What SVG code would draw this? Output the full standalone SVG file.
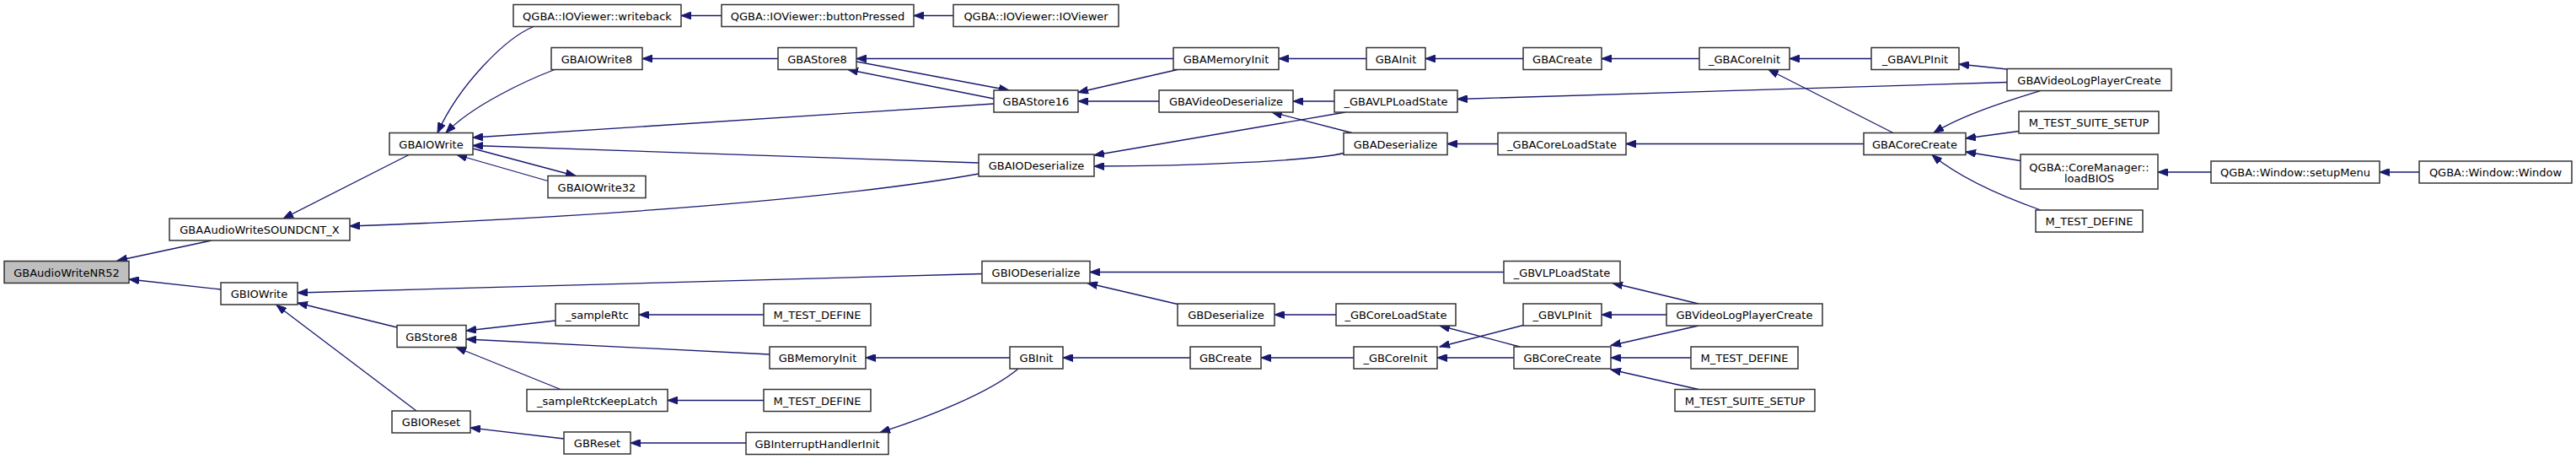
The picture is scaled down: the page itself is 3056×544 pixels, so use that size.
<svg xmlns="http://www.w3.org/2000/svg" width="3056" height="544" viewBox="0 0 3056 544">
<style>
.n rect{fill:#fff;stroke:#333;stroke-width:1.5}
.n.root rect{fill:#bfbfbf}
.n text{font-family:"DejaVu Sans",sans-serif;font-size:13px;fill:#000;text-anchor:middle}
#edges path{fill:none;stroke:#191970;stroke-width:1.3;marker-end:url(#ah)}
</style>
<defs>
<marker id="ah" markerUnits="userSpaceOnUse" markerWidth="13" markerHeight="9" refX="12" refY="4.5" orient="auto">
<path d="M0,0 L12,4.5 L0,9 z" fill="#191970" stroke="#191970" stroke-width="1"/>
</marker>
</defs>
<rect width="3056" height="544" fill="#fff"/>
<g id="edges">
<path d="M251,285 L139,309"/>
<path d="M262,343 L153,331"/>
<path d="M485,183.5 L336,259"/>
<path d="M1161,206 C1000,235 700,258 415,268"/>
<path d="M633,31.5 C600,45 545,100 519,157.5"/>
<path d="M658,82.5 C625,95 560,125 529,157.5"/>
<path d="M1179,123 L561,163"/>
<path d="M1161,193 L561,172.5"/>
<path d="M561,176 L683,208.5"/>
<path d="M650,214.5 L542,183.5"/>
<path d="M923,69.5 L762,69.5"/>
<path d="M856,18.5 L808,18.5"/>
<path d="M1131,18.5 L1084,18.5"/>
<path d="M1392,69.5 L1016,69.5"/>
<path d="M1016,73 L1197,107"/>
<path d="M1179,117 L1006,82.5"/>
<path d="M1397,82.5 L1279,109.5"/>
<path d="M1375,120 L1279,120"/>
<path d="M1621,69.5 L1517,69.5"/>
<path d="M1807,69.5 L1691,69.5"/>
<path d="M2016,69.5 L1900,69.5"/>
<path d="M2220,69.5 L2123,69.5"/>
<path d="M2381,82 L2324,76"/>
<path d="M2381,97.5 L1729,117.5"/>
<path d="M2246,157.5 L2098,82.5"/>
<path d="M2421,107.5 C2390,117 2330,135 2294,157.5"/>
<path d="M2395,155.5 L2332,164"/>
<path d="M2397,190.5 L2332,180"/>
<path d="M2421,249 C2390,238 2330,215 2292,183.5"/>
<path d="M2623,204 L2560,204"/>
<path d="M2870,204 L2823,204"/>
<path d="M1777,170.5 L1717,170.5"/>
<path d="M2211,170.5 L1929,170.5"/>
<path d="M1604,157.5 L1509,133"/>
<path d="M1594,181.5 C1560,190 1420,197 1298,197"/>
<path d="M1583,120 L1534,120"/>
<path d="M1596,133 L1298,184"/>
<path d="M1165,324.5 L353,347"/>
<path d="M471,388 L353,359"/>
<path d="M494,487 L328,361.5"/>
<path d="M659,380 L553,392"/>
<path d="M913,420 L553,402"/>
<path d="M665,461.5 L541,411.5"/>
<path d="M906,373 L758,373"/>
<path d="M906,474.5 L792,474.5"/>
<path d="M669,520 L558,507"/>
<path d="M885,525 L748,525"/>
<path d="M1198,424 L1027,424"/>
<path d="M1208,437 C1175,465 1100,495 1044,512.5"/>
<path d="M1412,424 L1261,424"/>
<path d="M1606,424 L1496,424"/>
<path d="M1397,360.5 L1290,335.5"/>
<path d="M1585,373 L1512,373"/>
<path d="M1784,322.5 L1293,322.5"/>
<path d="M1807,385.5 L1708,411"/>
<path d="M1803,411 L1708,386"/>
<path d="M1796,424 L1705,424"/>
<path d="M2015,360 L1913,335.5"/>
<path d="M1977,373 L1900,373"/>
<path d="M2015,386 L1911,409.5"/>
<path d="M2006,424 L1911,424"/>
<path d="M2015,461.5 L1911,438"/>
</g>
<g id="n1" class="n root"><rect x="5" y="309.5" width="148" height="26"/><text x="79" y="327.5">GBAudioWriteNR52</text></g>
<g id="n2" class="n"><rect x="201" y="259" width="214" height="26"/><text x="308" y="277">GBAAudioWriteSOUNDCNT_X</text></g>
<g id="n3" class="n"><rect x="262" y="335" width="91" height="26"/><text x="307.5" y="353">GBIOWrite</text></g>
<g id="n4" class="n"><rect x="462" y="157.5" width="99" height="26"/><text x="511.5" y="175.5">GBAIOWrite</text></g>
<g id="n5" class="n"><rect x="609" y="5.5" width="199" height="26"/><text x="708.5" y="23.5">QGBA::IOViewer::writeback</text></g>
<g id="n6" class="n"><rect x="654" y="56.5" width="108" height="26"/><text x="708" y="74.5">GBAIOWrite8</text></g>
<g id="n7" class="n"><rect x="650" y="208.5" width="116" height="26"/><text x="708" y="226.5">GBAIOWrite32</text></g>
<g id="n8" class="n"><rect x="471" y="385.5" width="82" height="26"/><text x="512" y="403.5">GBStore8</text></g>
<g id="n9" class="n"><rect x="659" y="360" width="99" height="26"/><text x="708.5" y="378">_sampleRtc</text></g>
<g id="n10" class="n"><rect x="625" y="461.5" width="167" height="26"/><text x="708.5" y="479.5">_sampleRtcKeepLatch</text></g>
<g id="n11" class="n"><rect x="465" y="487" width="93" height="26"/><text x="511.5" y="505">GBIOReset</text></g>
<g id="n12" class="n"><rect x="669" y="512" width="79" height="26"/><text x="708.5" y="530">GBReset</text></g>
<g id="n13" class="n"><rect x="856" y="5.5" width="228" height="26"/><text x="970" y="23.5">QGBA::IOViewer::buttonPressed</text></g>
<g id="n14" class="n"><rect x="1131" y="5.5" width="196" height="26"/><text x="1229" y="23.5">QGBA::IOViewer::IOViewer</text></g>
<g id="n15" class="n"><rect x="923" y="56.5" width="93" height="26"/><text x="969.5" y="74.5">GBAStore8</text></g>
<g id="n16" class="n"><rect x="1392" y="56.5" width="125" height="26"/><text x="1454.5" y="74.5">GBAMemoryInit</text></g>
<g id="n17" class="n"><rect x="1179" y="107" width="100" height="26"/><text x="1229" y="125">GBAStore16</text></g>
<g id="n18" class="n"><rect x="1375" y="107" width="159" height="26"/><text x="1454.5" y="125">GBAVideoDeserialize</text></g>
<g id="n19" class="n"><rect x="1161" y="183" width="137" height="26"/><text x="1229.5" y="201">GBAIODeserialize</text></g>
<g id="n20" class="n"><rect x="1165" y="309.5" width="128" height="26"/><text x="1229" y="327.5">GBIODeserialize</text></g>
<g id="n21" class="n"><rect x="906" y="360" width="127" height="26"/><text x="969.5" y="378">M_TEST_DEFINE</text></g>
<g id="n22" class="n"><rect x="1397" y="360" width="115" height="26"/><text x="1454.5" y="378">GBDeserialize</text></g>
<g id="n23" class="n"><rect x="913" y="411" width="114" height="26"/><text x="970" y="429">GBMemoryInit</text></g>
<g id="n24" class="n"><rect x="1198" y="411" width="63" height="26"/><text x="1229.5" y="429">GBInit</text></g>
<g id="n25" class="n"><rect x="1412" y="411" width="84" height="26"/><text x="1454" y="429">GBCreate</text></g>
<g id="n26" class="n"><rect x="906" y="461.5" width="127" height="26"/><text x="969.5" y="479.5">M_TEST_DEFINE</text></g>
<g id="n27" class="n"><rect x="885" y="512.5" width="169" height="26"/><text x="969.5" y="530.5">GBInterruptHandlerInit</text></g>
<g id="n28" class="n"><rect x="1621" y="56.5" width="70" height="26"/><text x="1656" y="74.5">GBAInit</text></g>
<g id="n29" class="n"><rect x="1807" y="56.5" width="93" height="26"/><text x="1853.5" y="74.5">GBACreate</text></g>
<g id="n30" class="n"><rect x="2016" y="56.5" width="107" height="26"/><text x="2069.5" y="74.5">_GBACoreInit</text></g>
<g id="n31" class="n"><rect x="2220" y="56.5" width="104" height="26"/><text x="2272" y="74.5">_GBAVLPInit</text></g>
<g id="n32" class="n"><rect x="1583" y="107" width="146" height="26"/><text x="1656" y="125">_GBAVLPLoadState</text></g>
<g id="n33" class="n"><rect x="1594" y="157.5" width="123" height="26"/><text x="1655.5" y="175.5">GBADeserialize</text></g>
<g id="n34" class="n"><rect x="1777" y="157.5" width="152" height="26"/><text x="1853" y="175.5">_GBACoreLoadState</text></g>
<g id="n35" class="n"><rect x="2211" y="157.5" width="121" height="26"/><text x="2271.5" y="175.5">GBACoreCreate</text></g>
<g id="n36" class="n"><rect x="1784" y="309.5" width="138" height="26"/><text x="1853" y="327.5">_GBVLPLoadState</text></g>
<g id="n37" class="n"><rect x="1585" y="360" width="142" height="26"/><text x="1656" y="378">_GBCoreLoadState</text></g>
<g id="n38" class="n"><rect x="1807" y="360" width="93" height="26"/><text x="1853.5" y="378">_GBVLPInit</text></g>
<g id="n39" class="n"><rect x="1977" y="360" width="185" height="26"/><text x="2069.5" y="378">GBVideoLogPlayerCreate</text></g>
<g id="n40" class="n"><rect x="1606" y="411" width="99" height="26"/><text x="1655.5" y="429">_GBCoreInit</text></g>
<g id="n41" class="n"><rect x="1796" y="411" width="115" height="26"/><text x="1853.5" y="429">GBCoreCreate</text></g>
<g id="n42" class="n"><rect x="2006" y="411" width="127" height="26"/><text x="2069.5" y="429">M_TEST_DEFINE</text></g>
<g id="n43" class="n"><rect x="1987" y="461.5" width="166" height="26"/><text x="2070" y="479.5">M_TEST_SUITE_SETUP</text></g>
<g id="n44" class="n"><rect x="2381" y="81.5" width="195" height="26"/><text x="2478.5" y="99.5">GBAVideoLogPlayerCreate</text></g>
<g id="n45" class="n"><rect x="2395" y="132" width="166" height="26"/><text x="2478" y="150">M_TEST_SUITE_SETUP</text></g>
<g id="n46" class="n"><rect x="2397" y="183" width="163" height="41"/><text x="2478.5" y="202.5">QGBA::CoreManager::</text><text x="2478.5" y="216">loadBIOS</text></g>
<g id="n47" class="n"><rect x="2623" y="191" width="200" height="26"/><text x="2723" y="209">QGBA::Window::setupMenu</text></g>
<g id="n48" class="n"><rect x="2870" y="191" width="181" height="26"/><text x="2960.5" y="209">QGBA::Window::Window</text></g>
<g id="n49" class="n"><rect x="2415" y="249" width="127" height="26"/><text x="2478.5" y="267">M_TEST_DEFINE</text></g>
</svg>
